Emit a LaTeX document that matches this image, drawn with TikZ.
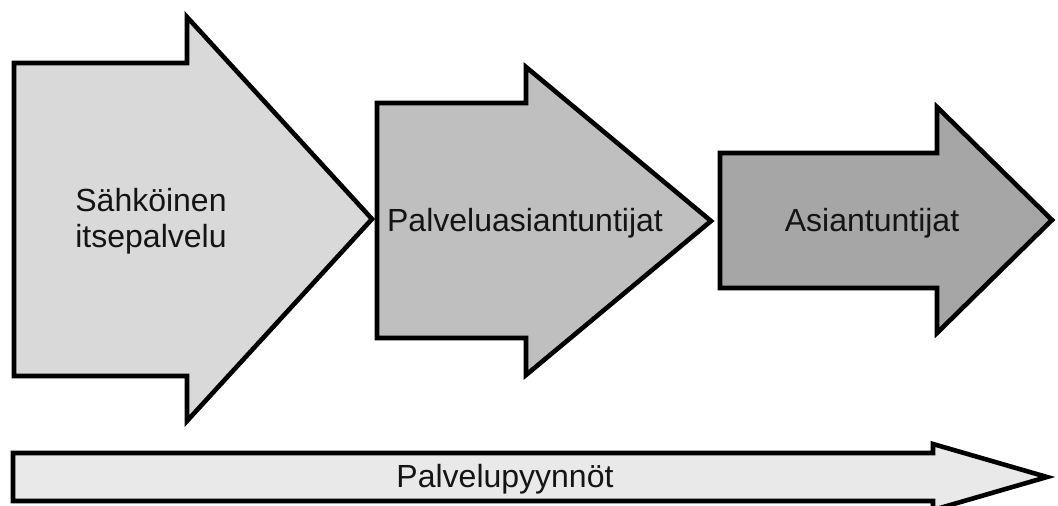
\documentclass[tikz,border=0pt]{standalone}
\usepackage{fontspec}
\setmainfont{Liberation Sans}
\usetikzlibrary{shadows}
\definecolor{fillA}{HTML}{D9D9D9}
\definecolor{fillB}{HTML}{BFBFBF}
\definecolor{fillC}{HTML}{A6A6A6}
\definecolor{fillD}{HTML}{E9E9E9}
\tikzset{
  bigarrow/.style={draw=black, line width=4.6pt, line join=miter,
    drop shadow={shadow xshift=1.5pt, shadow yshift=-1.5pt, opacity=0.25}},
  lbl/.style={inner sep=0pt, font=\fontsize{32}{36}\selectfont, text=black!92}
}
\begin{document}
\begin{tikzpicture}[x=1pt,y=-1pt]
\useasboundingbox (0,0) rectangle (1058,506);
\clip (0,0) rectangle (1058,506);
% arrow 1
\path[bigarrow, fill=fillA] (14,63) -- (187,63) -- (187,17) -- (372,219) -- (187,421) -- (187,376) -- (14,376) -- cycle;
% arrow 2
\path[bigarrow, fill=fillB] (377,103) -- (526,103) -- (526,67) -- (711,221) -- (526,375) -- (526,338) -- (377,338) -- cycle;
% arrow 3
\path[bigarrow, fill=fillC] (720,153) -- (937,153) -- (937,107) -- (1052,220) -- (937,333) -- (937,288) -- (720,288) -- cycle;
% bottom arrow
\path[bigarrow, fill=fillD] (13,453) -- (933,453) -- (933,444) -- (1047,477) -- (933,510) -- (933,501) -- (13,501) -- cycle;
% labels
\node[lbl, align=left] (t1) at (151,221) {Sähköinen\\itsepalvelu};
\node[lbl, anchor=base] (t2) at (525,231) {Palveluasiantuntijat};
\node[lbl, anchor=base] (t3) at (872,231) {Asiantuntijat};
\node[lbl, anchor=base] (t4) at (505,487) {Palvelupyynnöt};
\end{tikzpicture}
\end{document}
